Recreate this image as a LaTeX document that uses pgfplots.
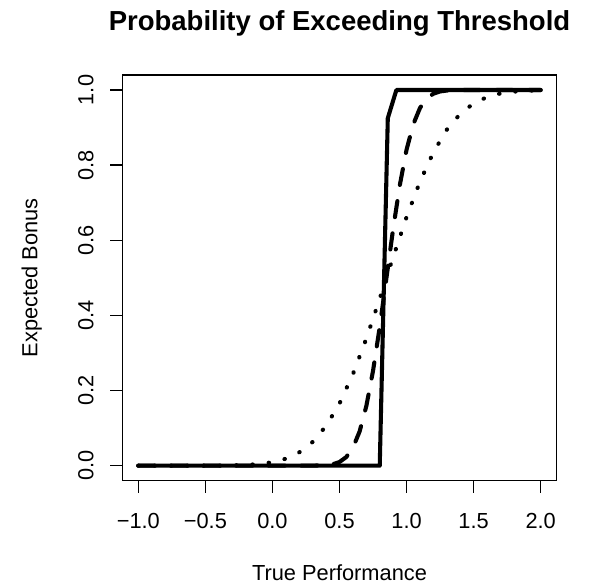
\documentclass[border=0pt]{standalone}
\usepackage{fontspec}
\setmainfont{Liberation Sans}
\usepackage{pgfplots}
\pgfplotsset{compat=1.18}
\begin{document}
\fontsize{21.8bp}{26bp}\selectfont
\begin{tikzpicture}
\useasboundingbox (-122.2bp,-106.3bp) rectangle (467.8bp,480.7bp);
\begin{axis}[
  at={(0,0)}, anchor=south west,
  scale only axis, width=434.6bp, height=405.7bp,
  xmin=-1.12, xmax=2.12, ymin=-0.04, ymax=1.04,
  axis line style={line width=1.36bp},
  every tick/.style={line width=1.36bp, black},
  tick align=outside, major tick length=12bp,
  xtick pos=left, ytick pos=left,
  xtick={-1,-0.5,0,0.5,1,1.5,2},
  xticklabels={−1.0,−0.5,0.0,0.5,1.0,1.5,2.0},
  ytick={0,0.2,0.4,0.6,0.8,1},
  yticklabels={0.0,0.2,0.4,0.6,0.8,1.0},
  xticklabel style={anchor=base, yshift=-35.6bp, inner sep=0pt},
  yticklabel style={xshift=-16.9bp, rotate=90, anchor=base, inner sep=0pt},
  title={\fontsize{27.5bp}{31bp}\selectfont\bfseries Probability of Exceeding Threshold},
  title style={at={(axis description cs:0.5,1)}, anchor=base, yshift=38.3bp, inner sep=0pt},
  xlabel={True Performance},
  xlabel style={at={(axis description cs:0.5,0)}, anchor=base, yshift=-99.3bp, inner sep=0pt},
  ylabel={Expected Bonus},
  ylabel style={at={(axis description cs:-0.19535,0.5)}, anchor=base, inner sep=0pt},
  clip=false,
]
% dotted: wide spread
\addplot[black, line width=4.08bp, line cap=round, dash pattern=on 0.5bp off 15.8bp] coordinates {
(-1.0,0.0000) (-0.8,0.0000) (-0.6,0.0000) (-0.5,0.0001) (-0.4,0.0002) (-0.3,0.0007) (-0.2,0.0018) (-0.1,0.0042)
(0.0,0.0091) (0.1,0.0186) (0.2,0.0355) (0.3,0.0633) (0.4,0.1056) (0.5,0.1655)
(0.6,0.2438) (0.7,0.3384) (0.8,0.4448) (0.85,0.5000) (0.9,0.5552) (1.0,0.6616)
(1.1,0.7562) (1.2,0.8345) (1.3,0.8944) (1.4,0.9367) (1.5,0.9645) (1.6,0.9814)
(1.7,0.9909) (1.8,0.9958) (1.9,0.9982) (2.0,0.9993)
};
% dashed: medium spread
\addplot[black, line width=4.08bp, line cap=round, line join=round, dash pattern=on 16.3bp off 16.3bp] coordinates {
(-1.0,0.0000) (0.0,0.0000) (0.3,0.0001) (0.4,0.0013) (0.45,0.0038) (0.5,0.0098) (0.55,0.0228)
(0.6,0.0478) (0.65,0.0912) (0.7,0.1587) (0.75,0.2525) (0.8,0.3694) (0.85,0.5000)
(0.9,0.6306) (0.95,0.7475) (1.0,0.8413) (1.05,0.9088) (1.1,0.9522) (1.15,0.9772)
(1.2,0.9902) (1.25,0.9962) (1.3,0.9987) (1.4,1.0000) (2.0,1.0000)
};
% solid: sharp step
\addplot[black, line width=4.08bp, line cap=round, line join=round] coordinates {
(-1.0,0.0000) (0.80,0.0000) (0.86,0.925) (0.924,1.0000) (2.0,1.0000)
};
\end{axis}
\end{tikzpicture}
\end{document}
